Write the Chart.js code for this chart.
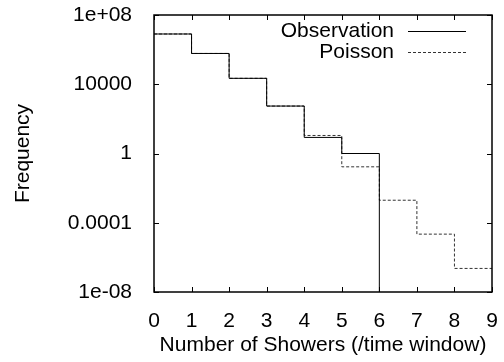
<!DOCTYPE html>
<html>
<head>
<meta charset="utf-8">
<script src="https://cdn.jsdelivr.net/npm/chart.js@4.4.0/dist/chart.umd.min.js"></script>
<style>
  html, body { margin: 0; padding: 0; background: #fff; }
  #wrap { width: 504px; height: 362px; }
</style>
</head>
<body>
<div id="wrap"><canvas id="showerChart"></canvas></div>
<script>
// bins = number of showers per time window
const bins = [0, 1, 2, 3, 4, 5, 6, 7, 8];
const observation = [8e6, 6e5, 2.2e4, 550, 8.5, 1, 0];
const poisson = [8e6, 6e5, 2.2e4, 550, 11, 0.17, 0.002, 2.2e-5, 2.3e-7];
const yTicks = [1e-8, 1e-4, 1, 1e4, 1e8];
const yTickLabels = ['1e-08', '0.0001', '1', '10000', '1e+08'];
const xMin = 0, xMax = 9;
const yMin = 1e-8, yMax = 1e8;

const FONT = '"Liberation Sans", Arial, Helvetica, sans-serif';
Chart.defaults.font.family = FONT;
Chart.defaults.font.size = 21;
Chart.defaults.color = '#000';

// histogram steps: each bin is a flat segment from i to i+1
// zero counts can't sit on a log axis, so push them under the floor (clipped)
function toSteps(values) {
  const pts = values.map((v, i) => ({ x: bins[i], y: v > 0 ? v : yMin / 10 }));
  pts.push({ x: bins[values.length - 1] + 1, y: pts[pts.length - 1].y });
  return pts;
}

function seg(ctx, x1, y1, x2, y2) {
  ctx.beginPath();
  ctx.moveTo(x1, y1);
  ctx.lineTo(x2, y2);
  ctx.stroke();
}

// gnuplot style box with inward ticks, plus the key in the top right corner
const decorPlugin = {
  id: 'decor',
  afterDraw(chart) {
    const { ctx, chartArea: a } = chart;
    const xs = chart.scales.x, ys = chart.scales.y;
    const tick = 5;
    const L = Math.round(a.left), R = Math.round(a.right);
    const T = Math.round(a.top), B = Math.round(a.bottom);
    ctx.save();

    ctx.font = '21px ' + FONT;
    ctx.textAlign = 'right';
    ctx.textBaseline = 'middle';
    ctx.fillStyle = '#000';
    chart.data.datasets.forEach((ds, i) => {
      const y = a.top + 16 + i * 21;
      ctx.fillText(ds.label, a.right - 98, y);
      ctx.strokeStyle = ds.borderColor;
      ctx.lineWidth = ds.borderWidth;
      ctx.setLineDash(ds.borderDash || []);
      seg(ctx, a.right - 84, Math.round(y) + 0.5, a.right - 26, Math.round(y) + 0.5);
    });

    ctx.setLineDash([]);
    ctx.strokeStyle = '#000';
    ctx.lineWidth = 1.5;
    ctx.strokeRect(L, T, R - L, B - T);
    ctx.lineWidth = 1;
    for (let v = xMin; v <= xMax; v++) {
      const px = Math.round(xs.getPixelForValue(v)) + 0.5;
      seg(ctx, px, B, px, B - tick);
      seg(ctx, px, T, px, T + tick);
    }
    yTicks.forEach(v => {
      const py = Math.round(ys.getPixelForValue(v)) + 0.5;
      seg(ctx, L, py, L + tick, py);
      seg(ctx, R, py, R - tick, py);
    });
    ctx.restore();
  }
};

new Chart(document.getElementById('showerChart'), {
  type: 'line',
  data: {
    datasets: [
      {
        label: 'Observation',
        data: toSteps(observation),
        stepped: 'before',
        borderColor: '#000',
        borderWidth: 1,
        pointRadius: 0,
        fill: false
      },
      {
        label: 'Poisson',
        data: toSteps(poisson),
        stepped: 'before',
        borderColor: '#333',
        borderWidth: 1,
        borderDash: [3, 2],
        pointRadius: 0,
        fill: false
      }
    ]
  },
  options: {
    responsive: true,
    maintainAspectRatio: false,
    animation: false,
    devicePixelRatio: 1,
    layout: { padding: { top: 15, right: 12, left: 0, bottom: 0 } },
    plugins: {
      legend: { display: false },
      tooltip: { enabled: false }
    },
    scales: {
      x: {
        type: 'linear',
        min: xMin,
        max: xMax,
        grid: { display: false },
        border: { display: false },
        ticks: { stepSize: 1, padding: 9, maxRotation: 0 },
        title: {
          display: true,
          text: 'Number of Showers (/time window)',
          padding: { top: 0, bottom: 4 }
        },
        afterFit: s => { s.height = 70; s.paddingLeft = 0; s.paddingRight = 0; }
      },
      y: {
        type: 'logarithmic',
        min: yMin,
        max: yMax,
        grid: { display: false },
        border: { display: false },
        afterBuildTicks: s => { s.ticks = yTicks.map(v => ({ value: v })); },
        ticks: {
          padding: 14,
          autoSkip: false,
          callback: (v, i) => yTickLabels[i]
        },
        title: {
          display: true,
          text: 'Frequency',
          padding: { top: 11, bottom: 0 }
        },
        afterFit: s => { s.width = 154; s.paddingTop = 0; s.paddingBottom = 0; }
      }
    }
  },
  plugins: [decorPlugin]
});
</script>
</body>
</html>
